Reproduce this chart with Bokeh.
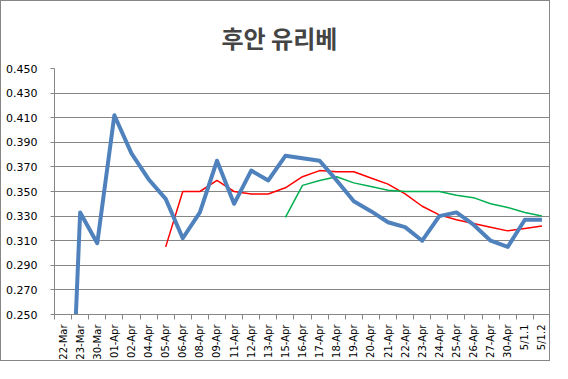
import math
from bokeh.plotting import figure
from bokeh.models import FixedTicker, Range1d, NumeralTickFormatter
from bokeh.embed import file_html
from bokeh.resources import INLINE

title_text = "후안 유리베"
categories = ["22-Mar", "23-Mar", "30-Mar", "01-Apr", "02-Apr", "04-Apr", "05-Apr",
              "06-Apr", "08-Apr", "09-Apr", "11-Apr", "12-Apr", "13-Apr", "15-Apr",
              "16-Apr", "17-Apr", "18-Apr", "19-Apr", "20-Apr", "21-Apr", "22-Apr",
              "23-Apr", "24-Apr", "25-Apr", "26-Apr", "27-Apr", "30-Apr", "5/1.1", "5/1.2"]
blue_values = [0.000, 0.333, 0.308, 0.412, 0.381, 0.360, 0.344, 0.312, 0.333, 0.375,
               0.340, 0.367, 0.359, 0.379, 0.377, 0.375, 0.359, 0.342, 0.334, 0.325,
               0.321, 0.310, 0.330, 0.333, 0.323, 0.310, 0.305, 0.327, 0.327]
red_start = "05-Apr"
red_values = [0.305, 0.350, 0.350, 0.359, 0.350, 0.348, 0.348, 0.353, 0.362, 0.367,
              0.366, 0.366, 0.361, 0.356, 0.348, 0.338, 0.331, 0.327, 0.324, 0.321,
              0.318, 0.320, 0.322]
green_start = "15-Apr"
green_values = [0.329, 0.355, 0.359, 0.362, 0.357, 0.354, 0.351, 0.350, 0.350, 0.350,
                0.347, 0.345, 0.340, 0.337, 0.333, 0.330]
y_ticks = [0.250, 0.270, 0.290, 0.310, 0.330, 0.350, 0.370, 0.390, 0.410, 0.430, 0.450]

n = len(categories)
xs = list(range(n))
rs = categories.index(red_start)
gs = categories.index(green_start)

p = figure(width=550, height=361, output_backend="svg", toolbar_location=None,
           x_range=Range1d(-0.5, n - 0.5), y_range=Range1d(y_ticks[0], y_ticks[-1]),
           min_border_left=53, min_border_right=1, min_border_top=67, min_border_bottom=45)
p.styles = {"border": "1px solid #868686"}
p.outline_line_color = None
p.background_fill_color = "white"
p.border_fill_color = "white"

p.title.text = title_text
p.title.text_font = "Noto Sans CJK KR"
p.title.text_font_style = "bold"
p.title.text_font_size = "24px"
p.title.align = "left"
p.title.offset = 167
p.title.standoff = 27

p.xgrid.grid_line_color = None
p.ygrid.grid_line_color = "#868686"
p.ygrid.ticker = FixedTicker(ticks=y_ticks)
p.ygrid.level = "image"

# lines
p.line(xs[rs:], red_values, line_color="#FF0000", line_width=1.5)
p.line(xs[gs:], green_values, line_color="#00B050", line_width=1.5)
p.line(xs, blue_values, line_color="#4F81BD", line_width=4, line_join="round")

# x axis
xa = p.xaxis[0]
xa.ticker = FixedTicker(ticks=xs, minor_ticks=[i - 0.5 for i in range(n + 1)])
xa.major_label_overrides = {i: c for i, c in enumerate(categories)}
xa.major_label_orientation = math.pi / 2
xa.major_tick_line_color = None
xa.major_tick_out = 0
xa.minor_tick_in = 0
xa.minor_tick_out = 5
xa.minor_tick_line_color = "#868686"
xa.axis_line_color = "#868686"
xa.major_label_text_font = "DejaVu Sans"
xa.major_label_text_font_size = "10px"
xa.major_label_text_color = "black"
xa.major_label_standoff = 5

# y axis
ya = p.yaxis[0]
ya.ticker = FixedTicker(ticks=y_ticks)
ya.formatter = NumeralTickFormatter(format="0.000")
ya.minor_tick_line_color = None
ya.major_tick_in = 0
ya.major_tick_out = 4
ya.major_tick_line_color = "#868686"
ya.axis_line_color = "#868686"
ya.major_label_text_font = "DejaVu Sans"
ya.major_label_text_font_size = "11px"
ya.major_label_text_color = "black"
ya.major_label_standoff = 13

open("out.html", "w").write(file_html(p, INLINE))
